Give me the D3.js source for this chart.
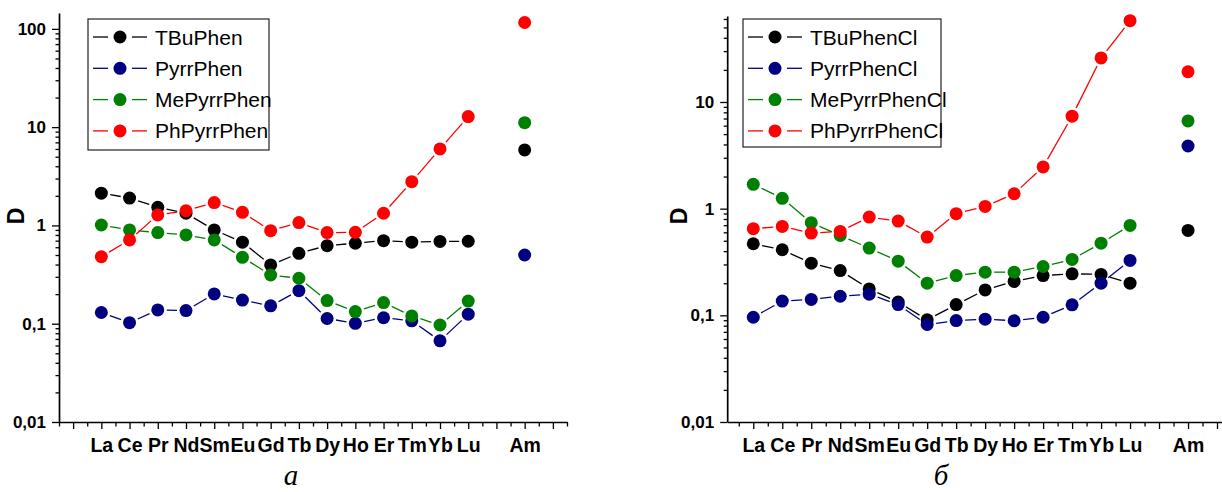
<!DOCTYPE html>
<html>
<head>
<meta charset="utf-8">
<script src="https://cdnjs.cloudflare.com/ajax/libs/d3/7.8.5/d3.min.js"></script>
<style>
  body { margin: 0; background: #fff; }
  svg { display: block; }
</style>
</head>
<body>
<div id="chart"></div>
<script>
// lanthanides on the x axis, americium stands apart after a gap
const lanthanides = ["La", "Ce", "Pr", "Nd", "Sm", "Eu", "Gd", "Tb", "Dy", "Ho", "Er", "Tm", "Yb", "Lu"];
const actinide = "Am";

const seriesNamesA = ["TBuPhen", "PyrrPhen", "MePyrrPhen", "PhPyrrPhen"];
const seriesNamesB = ["TBuPhenCl", "PyrrPhenCl", "MePyrrPhenCl", "PhPyrrPhenCl"];
const colors = ["#000000", "#000080", "#008000", "#ff0000"];

// panel a: 14 lanthanides followed by Am
const tbuPhen    = [2.13, 1.9, 1.53, 1.33, 0.90, 0.675, 0.396, 0.52, 0.623, 0.659, 0.70, 0.675, 0.687, 0.69, 5.87];
const pyrrPhen   = [0.13, 0.1025, 0.138, 0.136, 0.201, 0.174, 0.152, 0.217, 0.113, 0.101, 0.115, 0.107, 0.067, 0.125, 0.50];
const mePyrrPhen = [1.01, 0.90, 0.845, 0.80, 0.712, 0.474, 0.313, 0.29, 0.172, 0.133, 0.164, 0.12, 0.097, 0.17, 11.1];
const phPyrrPhen = [0.48, 0.712, 1.28, 1.41, 1.71, 1.36, 0.885, 1.07, 0.845, 0.85, 1.33, 2.79, 6.01, 12.8, 116];

// panel b
const tbuPhenCl    = [0.469, 0.412, 0.308, 0.263, 0.177, 0.133, 0.0908, 0.126, 0.173, 0.208, 0.236, 0.245, 0.242, 0.20, 0.625];
const pyrrPhenCl   = [0.096, 0.136, 0.141, 0.151, 0.158, 0.126, 0.082, 0.0893, 0.092, 0.089, 0.096, 0.1255, 0.20, 0.327, 3.87];
const mePyrrPhenCl = [1.69, 1.25, 0.739, 0.561, 0.427, 0.322, 0.20, 0.236, 0.254, 0.254, 0.287, 0.334, 0.475, 0.697, 6.65];
const phPyrrPhenCl = [0.649, 0.682, 0.59, 0.612, 0.834, 0.765, 0.541, 0.898, 1.05, 1.38, 2.46, 7.36, 25.9, 57.8, 19.2];

const W = 1222, H = 492;
const R = 6.5;     // marker radius
const GAP = 9;     // line stops short of the markers, like Origin does

const svg = d3.select("#chart").append("svg")
    .attr("width", W)
    .attr("height", H);

const elements = lanthanides.concat([actinide]);
const elemPos = elements.map((e, i) => i < lanthanides.length ? i + 1 : lanthanides.length + 2);

function drawPanel(opt) {
    const x = d3.scaleLinear().domain(opt.xDomain).range(opt.xRange);
    const y = d3.scaleLog().domain(opt.yDomain).range([422, opt.yTop]);
    const g = svg.append("g");

    // x ticks: integers long, halves short
    const xMajor = d3.range(Math.ceil(opt.xDomain[0]), Math.floor(opt.xDomain[1]) + 1);
    const xMinor = d3.range(Math.ceil(opt.xDomain[0] * 2) / 2, opt.xDomain[1] + 0.01, 1).filter(v => v % 1 !== 0);
    const label = v => { const i = elemPos.indexOf(v); return i < 0 ? "" : elements[i]; };

    const xAxis = g.append("g")
        .attr("transform", "translate(0,422)")
        .call(d3.axisBottom(x).tickValues(xMajor).tickSize(7).tickSizeOuter(0).tickPadding(9).tickFormat(label));
    g.append("g")
        .attr("transform", "translate(0,422)")
        .call(d3.axisBottom(x).tickValues(xMinor).tickSize(4.5).tickSizeOuter(0).tickFormat(""))
        .select(".domain").remove();

    // y ticks: decades long, 2..9 short
    const yMajor = [0.01, 0.1, 1, 10, 100].filter(v => v <= opt.yDomain[1]);
    const yMinor = [];
    [0.01, 0.1, 1, 10, 100].forEach(d => {
        for (let k = 2; k <= 9; k++) if (d * k <= opt.yDomain[1]) yMinor.push(d * k);
    });
    const yAxis = g.append("g")
        .attr("transform", `translate(${opt.xRange[0]},0)`)
        .call(d3.axisLeft(y).tickValues(yMajor).tickSize(7).tickSizeOuter(0).tickPadding(6)
            .tickFormat(v => String(v).replace(".", ",")));
    g.append("g")
        .attr("transform", `translate(${opt.xRange[0]},0)`)
        .call(d3.axisLeft(y).tickValues(yMinor).tickSize(3.5).tickSizeOuter(0).tickFormat(""))
        .select(".domain").remove();

    g.selectAll(".domain").attr("stroke", "#000").attr("stroke-width", 1.7);
    g.selectAll(".tick line").attr("stroke", "#000").attr("stroke-width", 1.3);
    xAxis.selectAll("text")
        .style("font-family", "'Liberation Sans', Arial, sans-serif")
        .style("font-size", "19.5px")
        .style("font-weight", "bold")
        .attr("fill", "#000");
    yAxis.selectAll("text")
        .style("font-family", "'Liberation Sans', Arial, sans-serif")
        .style("font-size", "17px")
        .style("font-weight", "bold")
        .attr("fill", "#000");

    g.append("text")
        .attr("transform", `translate(${opt.dX},216) rotate(-90)`)
        .attr("text-anchor", "middle")
        .attr("dy", "0.35em")
        .style("font-family", "'Liberation Sans', Arial, sans-serif")
        .style("font-size", "23px")
        .style("font-weight", "bold")
        .text("D");

    // series
    opt.series.forEach((vals, s) => {
        const pts = vals.map((v, i) => [x(elemPos[i]), y(v)]);
        const segs = [];
        for (let i = 0; i < lanthanides.length - 1; i++) {
            const a = pts[i], b = pts[i + 1];
            const dx = b[0] - a[0], dy = b[1] - a[1];
            const len = Math.hypot(dx, dy);
            if (len <= 2 * GAP) continue;
            const ux = dx / len, uy = dy / len;
            segs.push([a[0] + ux * GAP, a[1] + uy * GAP, b[0] - ux * GAP, b[1] - uy * GAP]);
        }
        g.append("g").selectAll("line")
            .data(segs)
            .enter().append("line")
            .attr("x1", d => d[0]).attr("y1", d => d[1])
            .attr("x2", d => d[2]).attr("y2", d => d[3])
            .attr("stroke", colors[s])
            .attr("stroke-width", 1.3);
        g.append("g").selectAll("circle")
            .data(pts)
            .enter().append("circle")
            .attr("cx", d => d[0])
            .attr("cy", d => d[1])
            .attr("r", R)
            .attr("fill", colors[s]);
    });

    // legend
    const lg = g.append("g");
    lg.append("rect")
        .attr("x", opt.legend.x).attr("y", opt.legend.y)
        .attr("width", opt.legend.w).attr("height", opt.legend.h)
        .attr("fill", "#fff")
        .attr("stroke", "#222")
        .attr("stroke-width", 1.2);
    opt.names.forEach((name, s) => {
        const cy = opt.legend.y + 18 + s * 31.3;
        const cx = opt.legend.x + 32;
        const row = lg.append("g");
        row.append("line").attr("x1", cx - 27).attr("x2", cx - 12).attr("y1", cy).attr("y2", cy)
            .attr("stroke", colors[s]).attr("stroke-width", 1.3);
        row.append("line").attr("x1", cx + 12).attr("x2", cx + 27).attr("y1", cy).attr("y2", cy)
            .attr("stroke", colors[s]).attr("stroke-width", 1.3);
        row.append("circle").attr("cx", cx).attr("cy", cy).attr("r", R).attr("fill", colors[s]);
        row.append("text")
            .attr("x", cx + 35).attr("y", cy)
            .attr("dy", "0.36em")
            .style("font-family", "'Liberation Sans', Arial, sans-serif")
            .style("font-size", "21px")
            .text(name);
    });

    svg.append("text")
        .attr("x", opt.capX).attr("y", 485)
        .attr("text-anchor", "middle")
        .style("font-family", "'Liberation Serif', 'Times New Roman', serif")
        .style("font-style", "italic")
        .style("font-size", "29px")
        .text(opt.caption);
}

drawPanel({
    xDomain: [-0.5, 17.5], xRange: [59, 567],
    yDomain: [0.01, 145], yTop: 13,
    series: [tbuPhen, pyrrPhen, mePyrrPhen, phPyrrPhen],
    names: seriesNamesA,
    legend: { x: 88, y: 19, w: 181, h: 131 },
    dX: 16, capX: 291, caption: "а"
});

drawPanel({
    xDomain: [0.1, 17.5], xRange: [727.2, 1231.5],
    yDomain: [0.01, 64], yTop: 16,
    series: [tbuPhenCl, pyrrPhenCl, mePyrrPhenCl, phPyrrPhenCl],
    names: seriesNamesB,
    legend: { x: 743, y: 19, w: 198, h: 128 },
    dX: 679, capX: 941, caption: "б"
});
</script>
</body>
</html>
